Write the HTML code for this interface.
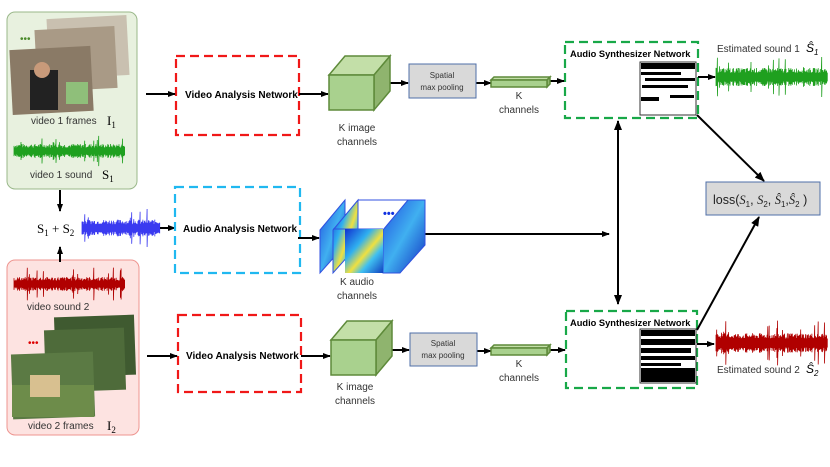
<!DOCTYPE html>
<html><head><meta charset="utf-8"><style>
body{margin:0;background:#fff}
svg{display:block}
text{font-family:"Liberation Sans",sans-serif}
.b{font-weight:bold;font-size:10px}
.s{font-size:10px;fill:#333}
.m{font-family:"Liberation Serif",serif;font-size:13px}
</style></head><body>
<svg id="s" width="830" height="467" viewBox="0 0 830 467" xmlns="http://www.w3.org/2000/svg">
<defs><marker id="a" markerWidth="8" markerHeight="6" refX="7" refY="3" orient="auto" markerUnits="userSpaceOnUse"><path d="M0,0L8,3L0,6z" fill="#000"/></marker>
<marker id="a2" markerWidth="10" markerHeight="8" refX="9" refY="4" orient="auto-start-reverse" markerUnits="userSpaceOnUse"><path d="M0,0L10,4L0,8z" fill="#000"/></marker>
<linearGradient id="jet" x1="0" y1="0" x2="1" y2="1"><stop offset="0" stop-color="#1030d0"/><stop offset="0.35" stop-color="#30b0f0"/><stop offset="0.55" stop-color="#f0e040"/><stop offset="0.7" stop-color="#40c0f0"/><stop offset="1" stop-color="#1040c0"/></linearGradient>
<linearGradient id="jet2" x1="0" y1="0" x2="1" y2="1"><stop offset="0" stop-color="#2050e0"/><stop offset="0.5" stop-color="#40b0f0"/><stop offset="1" stop-color="#1030c0"/></linearGradient></defs>
<rect x="7" y="12" width="130" height="177" rx="8" fill="#e8f1df" stroke="#9ab88a"/>
<rect x="48" y="17" width="80" height="60" fill="#c9c0b0" transform="rotate(-3 88 47)"/>
<rect x="36" y="28" width="80" height="62" fill="#a99a86" transform="rotate(-3 76 59)"/>
<rect x="11" y="48" width="81" height="65" fill="#8a7a66" transform="rotate(-3 51 80)"/>
<rect x="30" y="70" width="28" height="40" fill="#222"/><circle cx="42" cy="70" r="8" fill="#c89a7a"/>
<rect x="66" y="82" width="22" height="22" fill="#8fbf7a"/>
<text x="20" y="42" fill="#4a8a2a" font-size="10">•••</text>
<text x="31" y="124" class="s" font-size="9.5">video 1 frames</text><text x="107" y="125" class="m">I<tspan font-size="9" dy="3">1</tspan></text>
<path id="w1" fill="none" stroke="#1fa01f" stroke-width="0.8"/>
<text x="30" y="178" class="s" font-size="9.5">video 1 sound</text><text x="102" y="179" class="m">S<tspan font-size="9" dy="3">1</tspan></text>
<line x1="60" y1="190" x2="60" y2="211" stroke="#000" stroke-width="2" marker-end="url(#a)"/>
<text x="37" y="233" class="m">S<tspan font-size="9" dy="3">1</tspan><tspan dy="-3"> + S</tspan><tspan font-size="9" dy="3">2</tspan></text>
<path id="w2" fill="none" stroke="#3a3af0" stroke-width="0.8"/>
<line x1="160" y1="228" x2="175" y2="228" stroke="#000" stroke-width="2" marker-end="url(#a)"/>
<rect x="7" y="260" width="132" height="175" rx="8" fill="#fde3e1" stroke="#ee9590"/>
<line x1="60" y1="262" x2="60" y2="247" stroke="#000" stroke-width="2" marker-end="url(#a)"/>
<path id="w3" fill="none" stroke="#b00000" stroke-width="0.8"/>
<text x="27" y="310" class="s" font-size="9.5">video sound 2</text>
<rect x="55" y="316" width="80" height="60" fill="#3f5a30" transform="rotate(-2 95 346)"/>
<rect x="45" y="329" width="80" height="62" fill="#4e6b3a" transform="rotate(-2 85 360)"/>
<rect x="12" y="353" width="82" height="65" fill="#5b7a44" transform="rotate(-2 53 385)"/>
<rect x="12" y="385" width="82" height="32" fill="#6d8c4a"/><rect x="30" y="375" width="30" height="22" fill="#d8c090"/>
<text x="28" y="346" fill="#d00" font-size="10">•••</text>
<text x="28" y="429" class="s" font-size="9.5">video 2 frames</text><text x="107" y="430" class="m">I<tspan font-size="9" dy="3">2</tspan></text>
<g fill="none" stroke-width="2.2" stroke-dasharray="9,5">
<rect x="176" y="56" width="123" height="79" stroke="#f01818"/>
<rect x="175" y="187" width="125" height="86" stroke="#20b8f0"/>
<rect x="178" y="315" width="123" height="77" stroke="#f01818"/>
<rect x="565" y="42" width="133" height="76" stroke="#18a848"/>
<rect x="566" y="311" width="131" height="77" stroke="#18a848"/>
</g>
<text x="185" y="98" class="b">Video Analysis Network</text>
<text x="183" y="232" class="b">Audio Analysis Network</text>
<text x="186" y="359" class="b">Video Analysis Network</text>
<g stroke="#000" stroke-width="2" marker-end="url(#a)">
<line x1="146" y1="94" x2="175" y2="94"/><line x1="147" y1="356" x2="177" y2="356"/>
<line x1="299" y1="94" x2="328" y2="94"/><line x1="301" y1="356" x2="330" y2="356"/>
<line x1="381" y1="83" x2="408" y2="83"/><line x1="381" y1="350" x2="409" y2="350"/>
<line x1="476" y1="83" x2="491" y2="83"/><line x1="477" y1="351" x2="491" y2="351"/>
<line x1="547" y1="81" x2="564" y2="81"/><line x1="547" y1="350" x2="565" y2="350"/>
<line x1="698" y1="77" x2="715" y2="77"/><line x1="697" y1="344" x2="714" y2="344"/>
<line x1="298" y1="238" x2="319" y2="238"/>
<line x1="425" y1="234" x2="609" y2="234"/>
</g>
<line x1="618" y1="121" x2="618" y2="304" stroke="#000" stroke-width="2" marker-start="url(#a2)" marker-end="url(#a2)"/>
<line x1="697" y1="115" x2="764" y2="181" stroke="#000" stroke-width="2" marker-end="url(#a2)"/>
<line x1="697" y1="330" x2="759" y2="217" stroke="#000" stroke-width="2" marker-end="url(#a2)"/>
<g stroke="#5e8a3a" stroke-width="1.5">
<path d="M329,75L345,56L390,56L374,75z" fill="#c3dfa8"/><path d="M374,75L390,56L390,91L374,110z" fill="#8fb46e"/><rect x="329" y="75" width="45" height="35" fill="#a9d18e"/>
<path d="M331,340L347,321L392,321L376,340z" fill="#c3dfa8"/><path d="M376,340L392,321L392,356L376,375z" fill="#8fb46e"/><rect x="331" y="340" width="45" height="35" fill="#a9d18e"/>
<path d="M491,80L494,77L550,77L547,80z" fill="#c3dfa8"/><path d="M547,80L550,77L550,84L547,87z" fill="#8fb46e"/><rect x="491" y="80" width="56" height="7" fill="#a9d18e"/>
<path d="M491,348L494,345L550,345L547,348z" fill="#c3dfa8"/><path d="M547,348L550,345L550,352L547,355z" fill="#8fb46e"/><rect x="491" y="348" width="56" height="7" fill="#a9d18e"/>
</g>
<text x="357" y="131" class="s" text-anchor="middle">K image</text><text x="357" y="145" class="s" text-anchor="middle">channels</text>
<text x="355" y="390" class="s" text-anchor="middle">K image</text><text x="355" y="404" class="s" text-anchor="middle">channels</text>
<rect x="409" y="64" width="67" height="34" fill="#d9d9d9" stroke="#4f6fa8"/>
<text x="442" y="78" font-size="8" text-anchor="middle" fill="#333">Spatial</text><text x="442" y="90" font-size="8" text-anchor="middle" fill="#333">max pooling</text>
<rect x="410" y="333" width="67" height="33" fill="#d9d9d9" stroke="#4f6fa8"/>
<text x="443" y="346" font-size="8" text-anchor="middle" fill="#333">Spatial</text><text x="443" y="358" font-size="8" text-anchor="middle" fill="#333">max pooling</text>
<text x="519" y="99" class="s" font-size="9" text-anchor="middle">K</text><text x="519" y="113" class="s" font-size="9" text-anchor="middle">channels</text>
<text x="519" y="367" class="s" font-size="9" text-anchor="middle">K</text><text x="519" y="381" class="s" font-size="9" text-anchor="middle">channels</text>
<g stroke="#3050e0" stroke-width="1">
<path d="M320,230L345,200L345,245L320,273z" fill="url(#jet2)"/>
<path d="M333,230L358,200L358,245L333,273z" fill="url(#jet)"/>
<path d="M358,200L425,200" fill="none"/>
<path d="M333,229L383,229" fill="none"/>
<path d="M383,230L408,200L425,200L425,245L400,273L383,273z" fill="url(#jet2)"/>
<path d="M345,229L383,229L383,273L345,273" fill="url(#jet)" stroke="none"/>
</g>
<text x="383" y="217" fill="#1030e0" font-size="11" font-weight="bold">•••</text>
<text x="357" y="285" class="s" text-anchor="middle">K audio</text><text x="357" y="299" class="s" text-anchor="middle">channels</text>
<text x="570" y="57" font-weight="bold" font-size="9.3">Audio Synthesizer Network</text>
<rect x="640" y="62" width="56" height="53" fill="#fff" stroke="#333"/>
<g fill="#000"><rect x="641" y="63" width="54" height="6"/><rect x="641" y="72" width="40" height="3"/><rect x="645" y="78" width="50" height="3"/><rect x="642" y="85" width="46" height="3"/><rect x="641" y="97" width="18" height="4"/><rect x="670" y="95" width="24" height="3"/></g>
<text x="570" y="326" font-weight="bold" font-size="9.3">Audio Synthesizer Network</text>
<rect x="640" y="329" width="56" height="54" fill="#fff" stroke="#333"/>
<g fill="#000"><rect x="641" y="330" width="54" height="6"/><rect x="641" y="339" width="54" height="6"/><rect x="641" y="348" width="50" height="5"/><rect x="641" y="356" width="54" height="4"/><rect x="641" y="363" width="40" height="3"/><rect x="641" y="368" width="54" height="14"/></g>
<text x="717" y="52" class="s" font-size="9.5">Estimated sound 1</text><text x="806" y="52" font-family="Liberation Serif,serif" font-style="italic" font-size="12">Ŝ<tspan font-size="8" dy="3">1</tspan></text>
<text x="717" y="373" class="s" font-size="9.5">Estimated sound 2</text><text x="806" y="373" font-family="Liberation Serif,serif" font-style="italic" font-size="12">Ŝ<tspan font-size="8" dy="3">2</tspan></text>
<path id="w4" fill="none" stroke="#1fa01f" stroke-width="0.8"/>
<path id="w5" fill="none" stroke="#b00000" stroke-width="0.8"/>
<rect x="706" y="182" width="114" height="33" fill="#d9d9d9" stroke="#4f6fa8"/>
<text x="713" y="204" font-size="12.5" fill="#222">loss(<tspan font-family="Liberation Serif,serif" font-style="italic">S</tspan><tspan font-size="8" dy="3">1</tspan><tspan dy="-3">, </tspan><tspan font-family="Liberation Serif,serif" font-style="italic">S</tspan><tspan font-size="8" dy="3">2</tspan><tspan dy="-3">, </tspan><tspan font-family="Liberation Serif,serif" font-style="italic">Ŝ</tspan><tspan font-size="8" dy="3">1</tspan><tspan dy="-3">,</tspan><tspan font-family="Liberation Serif,serif" font-style="italic">Ŝ</tspan><tspan font-size="8" dy="3">2</tspan><tspan dy="-3"> )</tspan></text>
</svg>
<script>
var seed=7;function r(){seed=(seed*9301+49297)%233280;return seed/233280;}
function wave(id,x0,x1,cy,amp){var d="";for(var x=x0;x<=x1;x+=0.7){var a=amp*(0.45+0.55*r())*(r()<0.06?1.5:0.65);d+=(x==x0?"M":"L")+x.toFixed(1)+","+(cy-a).toFixed(1)+"L"+x.toFixed(1)+","+(cy+a).toFixed(1);}document.getElementById(id).setAttribute("d",d);}
wave("w1",14,125,151,11);wave("w2",82,160,228,13);wave("w3",14,125,284,11);wave("w4",716,828,77,14);wave("w5",716,828,343,15);
</script>
</body></html>
